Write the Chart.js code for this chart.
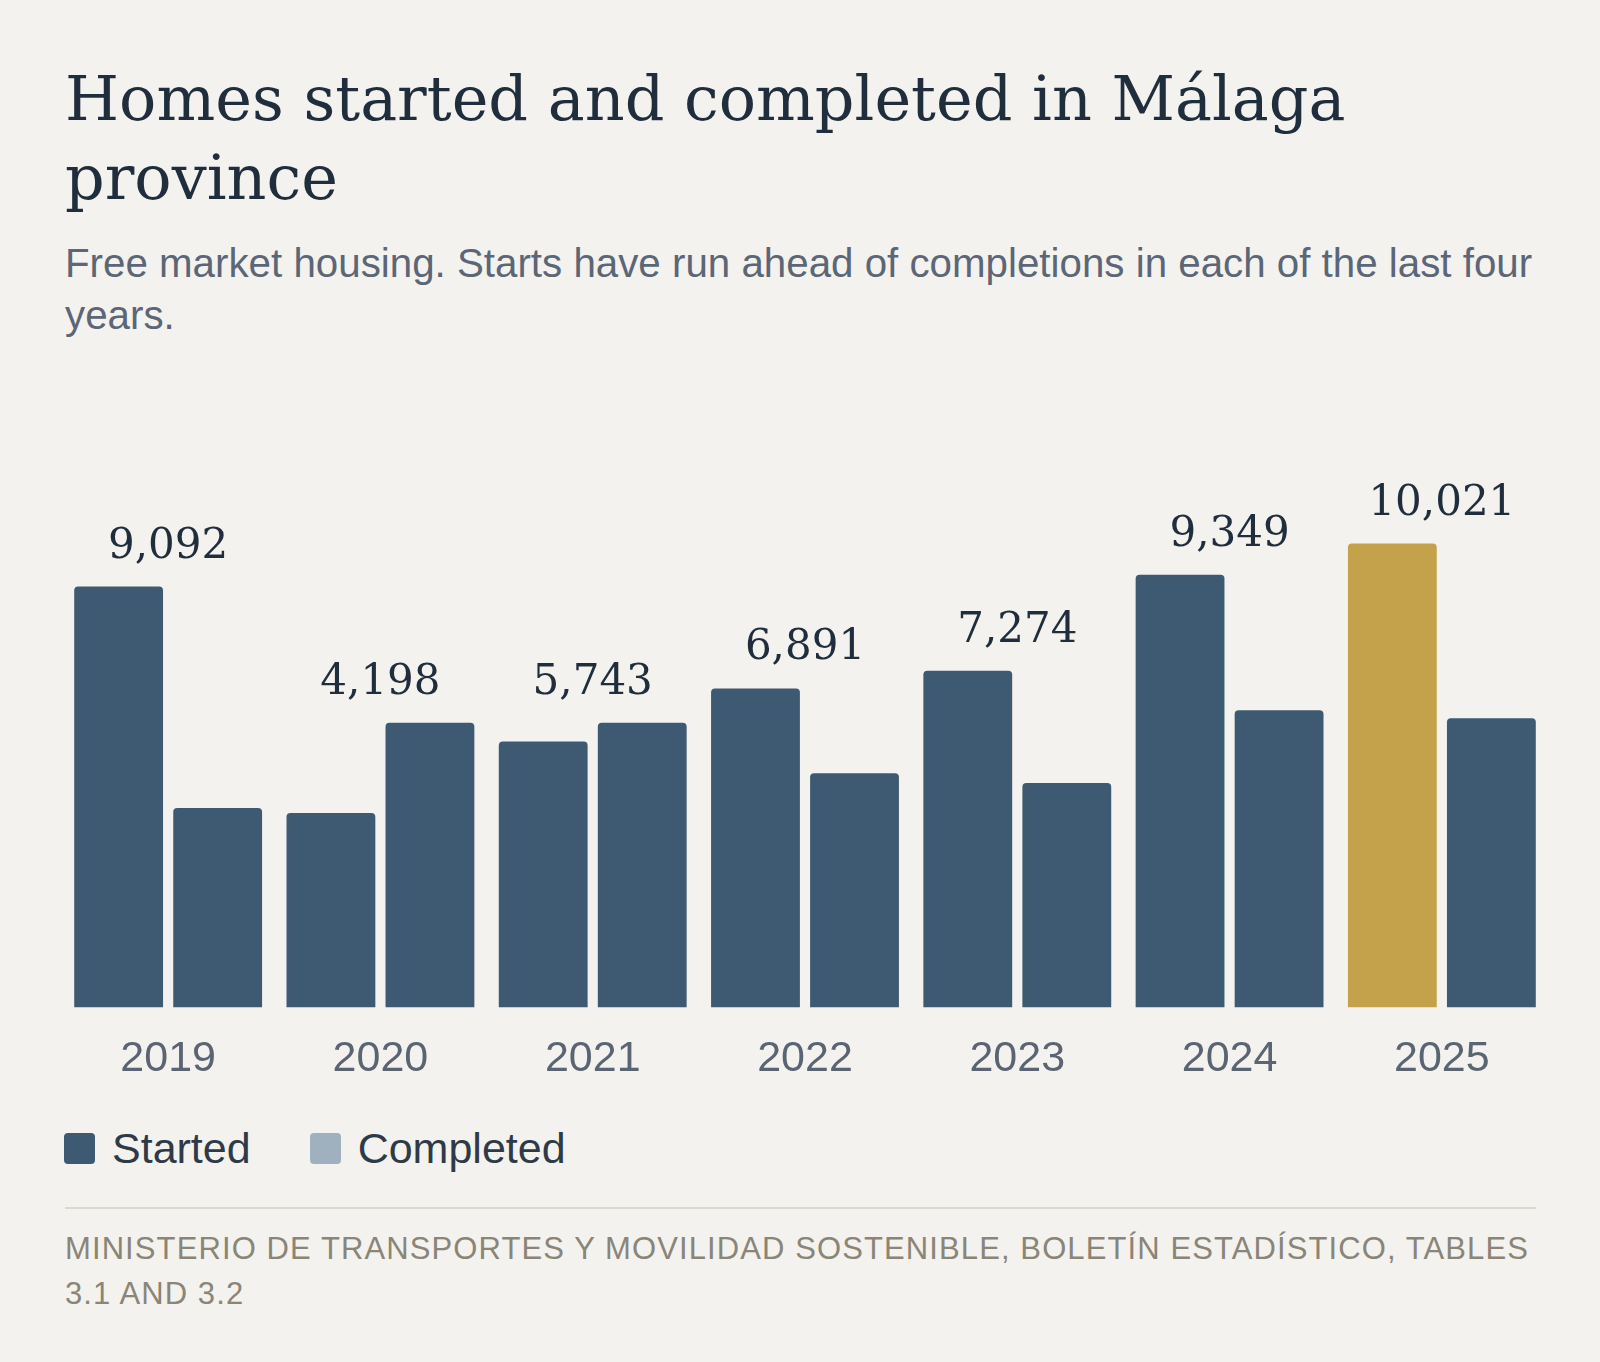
<!DOCTYPE html>
<html>
<head>
<meta charset="utf-8">
<script src="https://cdn.jsdelivr.net/npm/chart.js@4.4.1/dist/chart.umd.min.js"></script>
<style>
  html, body { margin: 0; padding: 0; }
  body {
    width: 1600px; height: 1362px; position: relative; overflow: hidden;
    background: #f4f2ee;
  }
  #title {
    position: absolute; left: 65px; top: 59px; width: 1472px;
    font-family: "DejaVu Serif", serif; font-size: 62px; line-height: 79px;
    color: #1f2d3d; margin: 0; font-weight: normal;
  }
  #sub {
    position: absolute; left: 65px; top: 238px; width: 1472px;
    font-family: "Liberation Sans", Arial, sans-serif; font-size: 40.3px; line-height: 52px;
    color: #5b6676; margin: 0;
  }
  #wrap { position: absolute; left: 0; top: 411px; width: 1600px; height: 700px; }
  #legend {
    position: absolute; left: 64px; top: 1128px; height: 40px;
    display: flex; align-items: center;
    font-family: "Liberation Sans", Arial, sans-serif; font-size: 43px; line-height: 40px;
    color: #2f3a47;
  }
  .item { display: flex; align-items: center; margin-right: 59px; }
  .sw { width: 31px; height: 31px; border-radius: 4px; margin-right: 17px; }
  #rule { position: absolute; left: 65px; top: 1207px; width: 1471px; height: 2px; background: #dcd8d0; }
  #source {
    position: absolute; left: 65px; top: 1226px; width: 1480px;
    font-family: "Liberation Sans", Arial, sans-serif; font-size: 31px; line-height: 45px;
    letter-spacing: 1.1px; color: #8a8577; text-transform: uppercase;
  }
</style>
</head>
<body>
<h1 id="title">Homes started and completed in Málaga province</h1>
<p id="sub">Free market housing. Starts have run ahead of completions in each of the last four years.</p>
<div id="wrap"><canvas id="grafico"></canvas></div>
<div id="legend">
  <div class="item"><span class="sw" style="background:#3e5a73"></span>Started</div>
  <div class="item"><span class="sw" style="background:#9fb1bf"></span>Completed</div>
</div>
<div id="rule"></div>
<div id="source">Ministerio de Transportes y Movilidad Sostenible, Boletín Estadístico, Tables 3.1 and 3.2</div>
<script>
var anos = ["2019", "2020", "2021", "2022", "2023", "2024", "2025"];
var iniciadas = [9092, 4198, 5743, 6891, 7274, 9349, 10021];
var terminadas = [4310, 6150, 6150, 5060, 4850, 6420, 6250];

var corEscura = "#3e5a73";
var corDestaque = "#c4a24c";

// rotulo do total iniciado, em cima do par de barras
var rotulos = {
    id: "rotulos",
    afterDatasetsDraw: function (chart) {
        var ctx = chart.ctx;
        var m0 = chart.getDatasetMeta(0);
        var m1 = chart.getDatasetMeta(1);
        var x = chart.scales.x;
        ctx.save();
        ctx.font = "42px 'DejaVu Serif'";
        ctx.fillStyle = "#1f2d3d";
        ctx.textAlign = "center";
        ctx.textBaseline = "alphabetic";
        for (var i = 0; i < anos.length; i++) {
            var topo = Math.min(m0.data[i].y, m1.data[i].y);
            ctx.fillText(iniciadas[i].toLocaleString("en-US"), x.getPixelForValue(i), topo - 29);
        }
        ctx.restore();
    }
};

function carregarGrafico() {
    var ctx = document.getElementById("grafico");
    var coresIniciadas = anos.map(function (a, i) {
        return i === anos.length - 1 ? corDestaque : corEscura;
    });
    new Chart(ctx, {
        type: "bar",
        data: {
            labels: anos,
            datasets: [{
                label: "Started",
                data: iniciadas,
                backgroundColor: coresIniciadas,
                borderRadius: 4,
                borderSkipped: "start"
            }, {
                label: "Completed",
                data: terminadas,
                backgroundColor: corEscura,
                borderRadius: 4,
                borderSkipped: "start"
            }]
        },
        options: {
            responsive: true,
            maintainAspectRatio: false,
            animation: false,
            categoryPercentage: 0.933,
            barPercentage: 0.897,
            layout: { padding: { left: 62, right: 52, top: 41, bottom: 0 } },
            plugins: { legend: { display: false }, tooltip: { enabled: false } },
            scales: {
                x: {
                    grid: { display: false, drawTicks: false },
                    border: { display: false },
                    ticks: {
                        color: "#5a6472",
                        padding: 26,
                        font: { family: "'Liberation Sans'", size: 43 }
                    }
                },
                y: {
                    display: false,
                    min: 0,
                    max: 12000
                }
            }
        },
        plugins: [rotulos]
    });
}

window.onload = function () {
    carregarGrafico();
};
</script>
</body>
</html>
